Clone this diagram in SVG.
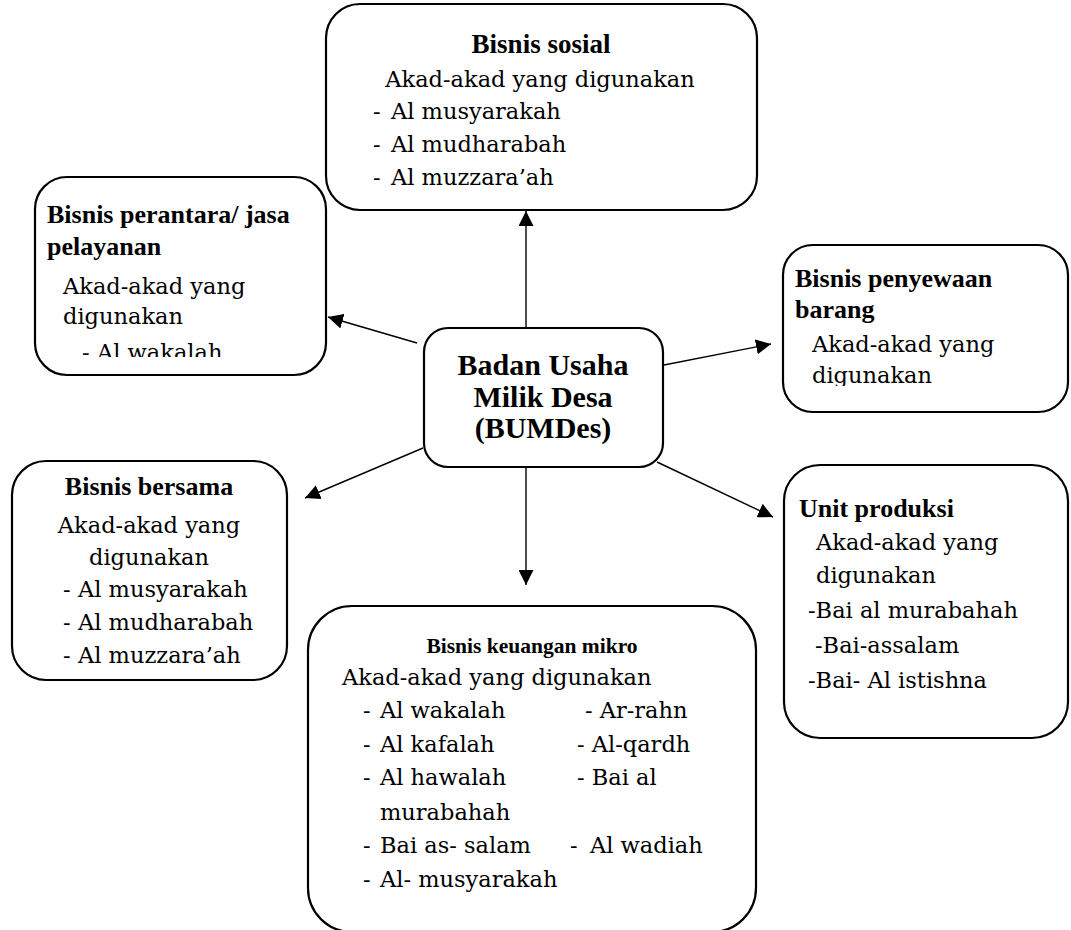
<svg xmlns="http://www.w3.org/2000/svg" width="1071" height="930" viewBox="0 0 1071 930">
<style>
.box{fill:#fff;stroke:#000;stroke-width:2.2}
.h{font-family:"Liberation Serif","Times New Roman",serif;font-weight:bold;font-size:26px;fill:#000}
.hs{font-family:"Liberation Serif","Times New Roman",serif;font-weight:bold;font-size:21.5px;fill:#000}
.hc{font-family:"Liberation Serif","Times New Roman",serif;font-weight:bold;font-size:30px;fill:#000}
.t{font-family:"DejaVu Serif","Liberation Serif",serif;font-size:22.5px;fill:#000}
.c{text-anchor:middle}
.con line{stroke:#000;stroke-width:1.4}
</style>
<defs>
<marker id="ah" markerUnits="userSpaceOnUse" markerWidth="15" markerHeight="15" refX="15" refY="7.5" orient="auto">
<path d="M0,0 L15,7.5 L0,15 z" fill="#000"/>
</marker>
<clipPath id="clipL"><rect x="35" y="177" width="291" height="180"/></clipPath>
<clipPath id="clipR"><rect x="783" y="245" width="288" height="141"/></clipPath>
</defs>

<g id="connectors" class="con">
<line x1="526" y1="328" x2="526" y2="211" marker-end="url(#ah)"/>
<line x1="526" y1="467" x2="526" y2="585" marker-end="url(#ah)"/>
<line x1="417" y1="343" x2="328" y2="317" marker-end="url(#ah)"/>
<line x1="423" y1="448" x2="305" y2="498" marker-end="url(#ah)"/>
<line x1="664" y1="365" x2="771" y2="344" marker-end="url(#ah)"/>
<line x1="657" y1="462" x2="773" y2="517" marker-end="url(#ah)"/>
</g>

<g id="node-sosial">
<rect class="box" x="326" y="4" width="431" height="206" rx="34"/>
<text class="h c" x="541" y="53" style="font-size:27px">Bisnis sosial</text>
<text class="t c" x="540" y="87">Akad-akad yang digunakan</text>
<text class="t" y="119"><tspan x="373">-</tspan><tspan x="391">Al musyarakah</tspan></text>
<text class="t" y="152"><tspan x="373">-</tspan><tspan x="391">Al mudharabah</tspan></text>
<text class="t" y="185"><tspan x="373">-</tspan><tspan x="391">Al muzzara’ah</tspan></text>
</g>

<g id="node-perantara">
<rect class="box" x="35" y="177" width="291" height="198" rx="32"/>
<text class="h" x="47" y="223">Bisnis perantara/ jasa</text>
<text class="h" x="47" y="255">pelayanan</text>
<text class="t" x="63" y="294">Akad-akad yang</text>
<text class="t" x="63" y="324">digunakan</text>
<text class="t" y="360" clip-path="url(#clipL)"><tspan x="82">-</tspan><tspan x="97">Al wakalah</tspan></text>
</g>

<g id="node-bumdes">
<rect class="box" x="424" y="328" width="239" height="139" rx="24"/>
<text class="hc c" x="543" y="375">Badan Usaha</text>
<text class="hc c" x="543" y="407">Milik Desa</text>
<text class="hc c" x="543" y="438">(BUMDes)</text>
</g>

<g id="node-penyewaan">
<rect class="box" x="783" y="245" width="285" height="167" rx="30"/>
<text class="h" x="795" y="287">Bisnis penyewaan</text>
<text class="h" x="795" y="318">barang</text>
<text class="t" x="812" y="352">Akad-akad yang</text>
<text class="t" x="812" y="383" clip-path="url(#clipR)">digunakan</text>
</g>

<g id="node-bersama">
<rect class="box" x="12" y="461" width="275" height="219" rx="34"/>
<text class="h c" x="149" y="495">Bisnis bersama</text>
<text class="t c" x="149" y="533">Akad-akad yang</text>
<text class="t c" x="149" y="565">digunakan</text>
<text class="t" y="597"><tspan x="63">-</tspan><tspan x="78">Al musyarakah</tspan></text>
<text class="t" y="630"><tspan x="63">-</tspan><tspan x="78">Al mudharabah</tspan></text>
<text class="t" y="663"><tspan x="63">-</tspan><tspan x="78">Al muzzara’ah</tspan></text>
</g>

<g id="node-produksi">
<rect class="box" x="784" y="465" width="284" height="273" rx="36"/>
<text class="h" x="799" y="517">Unit produksi</text>
<text class="t" x="816" y="550">Akad-akad yang</text>
<text class="t" x="816" y="583">digunakan</text>
<text class="t" x="808" y="618">-Bai al murabahah</text>
<text class="t" x="815" y="653">-Bai-assalam</text>
<text class="t" x="808" y="688">-Bai- Al istishna</text>
</g>

<g id="node-keuangan">
<rect class="box" x="308" y="606" width="448" height="326" rx="44"/>
<text class="hs c" x="532" y="653">Bisnis keuangan mikro</text>
<text class="t" x="342" y="685">Akad-akad yang digunakan</text>
<text class="t" y="718"><tspan x="363">-</tspan><tspan x="380">Al wakalah</tspan><tspan x="585">- Ar-rahn</tspan></text>
<text class="t" y="752"><tspan x="363">-</tspan><tspan x="380">Al kafalah</tspan><tspan x="577">- Al-qardh</tspan></text>
<text class="t" y="785"><tspan x="363">-</tspan><tspan x="380">Al hawalah</tspan><tspan x="577">- Bai al</tspan></text>
<text class="t" x="380" y="820">murabahah</text>
<text class="t" y="853"><tspan x="363">-</tspan><tspan x="380">Bai as- salam</tspan><tspan x="570">-</tspan><tspan x="590">Al wadiah</tspan></text>
<text class="t" y="887"><tspan x="363">-</tspan><tspan x="380">Al- musyarakah</tspan></text>
</g>
</svg>
